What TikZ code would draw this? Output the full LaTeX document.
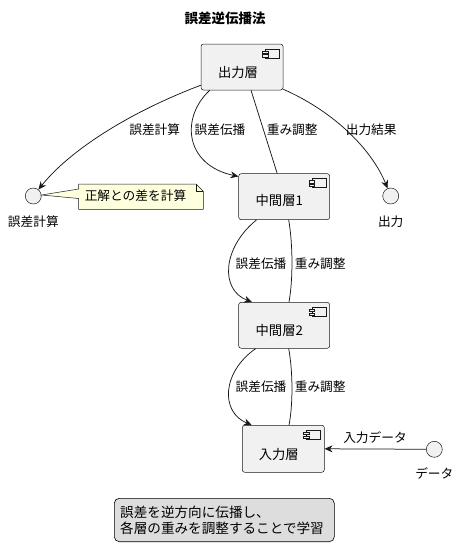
\documentclass[tikz,border=0pt]{standalone}
\usepackage{fontspec}
\setmainfont{Noto Sans CJK JP}
\usetikzlibrary{arrows.meta}
\definecolor{edgec}{HTML}{181818}
\definecolor{boxfill}{HTML}{F1F1F1}
\definecolor{notefill}{HTML}{FEFFDD}
\definecolor{legfill}{HTML}{DDDDDD}
\newcommand\compicon[1]{%
  \draw[iconline] ([xshift=-4pt,yshift=-5pt]#1.north east) rectangle ([xshift=-18pt,yshift=-14pt]#1.north east);
  \draw[iconline] ([xshift=-21pt,yshift=-7pt]#1.north east) rectangle ([xshift=-15.5pt,yshift=-9.3pt]#1.north east);
  \draw[iconline] ([xshift=-21pt,yshift=-10.7pt]#1.north east) rectangle ([xshift=-15.5pt,yshift=-13pt]#1.north east);
}
\begin{document}
\begin{tikzpicture}[x=1pt,y=-1pt,
  box/.style={draw=edgec, fill=boxfill, rounded corners=2.5pt, line width=0.5pt, inner sep=0pt},
  iconline/.style={draw=edgec, fill=boxfill, line width=0.45pt},
  boxlabel/.style={inner sep=0pt, font=\fontsize{13.3}{16}\selectfont},
  elabel/.style={inner sep=0pt, font=\fontsize{12.7}{15}\selectfont},
  iface/.style={circle, draw=edgec, fill=boxfill, line width=0.5pt, minimum size=16pt, inner sep=0pt},
  conn/.style={draw=edgec, line width=0.75pt},
  arr/.style={conn, -{Stealth[length=8pt,width=7pt]}}
]
\useasboundingbox (0,0) rectangle (461,560);

% title
\node[inner sep=0pt, font=\fontsize{13.5}{16}\selectfont\bfseries] (title) at (225,18) {誤差逆伝播法};

% component boxes
\node[box, minimum width=82pt, minimum height=46pt] (out) at (242,67) {};
\node[box, minimum width=91pt, minimum height=46pt] (m1) at (284.2,196.7) {};
\node[box, minimum width=91pt, minimum height=46pt] (m2) at (284.2,325.3) {};
\node[box, minimum width=82pt, minimum height=47pt] (inp) at (283.3,448.8) {};
\compicon{out}
\compicon{m1}
\compicon{m2}
\compicon{inp}
\node[boxlabel] (outl) at (238,72) {出力層};
\node[boxlabel] (m1l) at (279.3,200.7) {中間層1};
\node[boxlabel] (m2l) at (279.3,330.5) {中間層2};
\node[boxlabel] (inpl) at (278.8,454.3) {入力層};

% interfaces
\node[iface] (ec) at (33.3,196) {};
\node[iface] (oc) at (390.7,196) {};
\node[iface] (dc) at (434.3,449.3) {};
\node[elabel] (ecl) at (33.3,221.5) {誤差計算};
\node[elabel] (ocl) at (390.7,221.5) {出力};
\node[elabel] (dcl) at (434.3,473) {データ};

% note
\draw[draw=edgec, fill=notefill, line width=0.5pt]
  (78.7,184) -- (196,184) -- (203.3,191.3) -- (203.3,209.3) -- (78.7,209.3)
  -- (78.7,198.5) -- (41.5,195) -- (78.7,189) -- cycle;
\draw[draw=edgec, line width=0.5pt] (196,184) -- (196,191.3) -- (203.3,191.3);
\node[elabel] (notel) at (135.5,196) {正解との差を計算};

% connectors from output layer
\draw[arr] ([yshift=5pt]out.south west) .. controls (130,112) and (70,150) .. (ec);
\node[elabel] (l1) at (154.7,129.3) {誤差計算};
\draw[arr] ([xshift=9pt]out.south west) .. controls (180,118) and (185,165) .. ([yshift=-3pt]m1.north west);
\node[elabel] (l2) at (220,129.3) {誤差伝播};
\draw[conn] ([xshift=9pt]out.south) -- ([xshift=-7pt]m1.north);
\node[elabel] (l3) at (292.2,129.3) {重み調整};
\draw[arr] ([yshift=1pt]out.south east) .. controls (335,112) and (372,150) .. (oc);
\node[elabel] (l4) at (371.2,129.3) {出力結果};

% m1 -> m2
\draw[arr] ([xshift=18pt]m1.south west) .. controls (222,248) and (220,290) .. ([xshift=13.6pt]m2.north west);
\node[elabel] (l5) at (261,264) {誤差伝播};
\draw[conn] ([xshift=4.5pt]m1.south) .. controls (293,245) and (293,280) .. ([xshift=4.8pt]m2.north);
\node[elabel] (l6) at (320.2,264) {重み調整};

% m2 -> input
\draw[arr] ([xshift=17.3pt]m2.south west) .. controls (222,372) and (220,412) .. ([xshift=9.7pt]inp.north west);
\node[elabel] (l7) at (261,386.7) {誤差伝播};
\draw[conn] ([xshift=4.5pt]m2.south) .. controls (293,372) and (293,405) .. ([xshift=5.7pt]inp.north);
\node[elabel] (l8) at (320.2,386.7) {重み調整};

% data -> input
\draw[arr] (dc) -- (inp.east);
\node[elabel] (l9) at (375,437.3) {入力データ};

% legend
\node[draw=black, fill=legfill, rounded corners=5pt, line width=0.6pt,
      minimum width=220pt, minimum height=43.4pt, inner sep=0pt] (legend) at (224.3,520) {};
\node[inner sep=0pt, align=left, anchor=west, font=\fontsize{13.6}{16}\selectfont] (legt) at (120,520.3)
  {誤差を逆方向に伝播し、\\各層の重みを調整することで学習};
\end{tikzpicture}
\end{document}
